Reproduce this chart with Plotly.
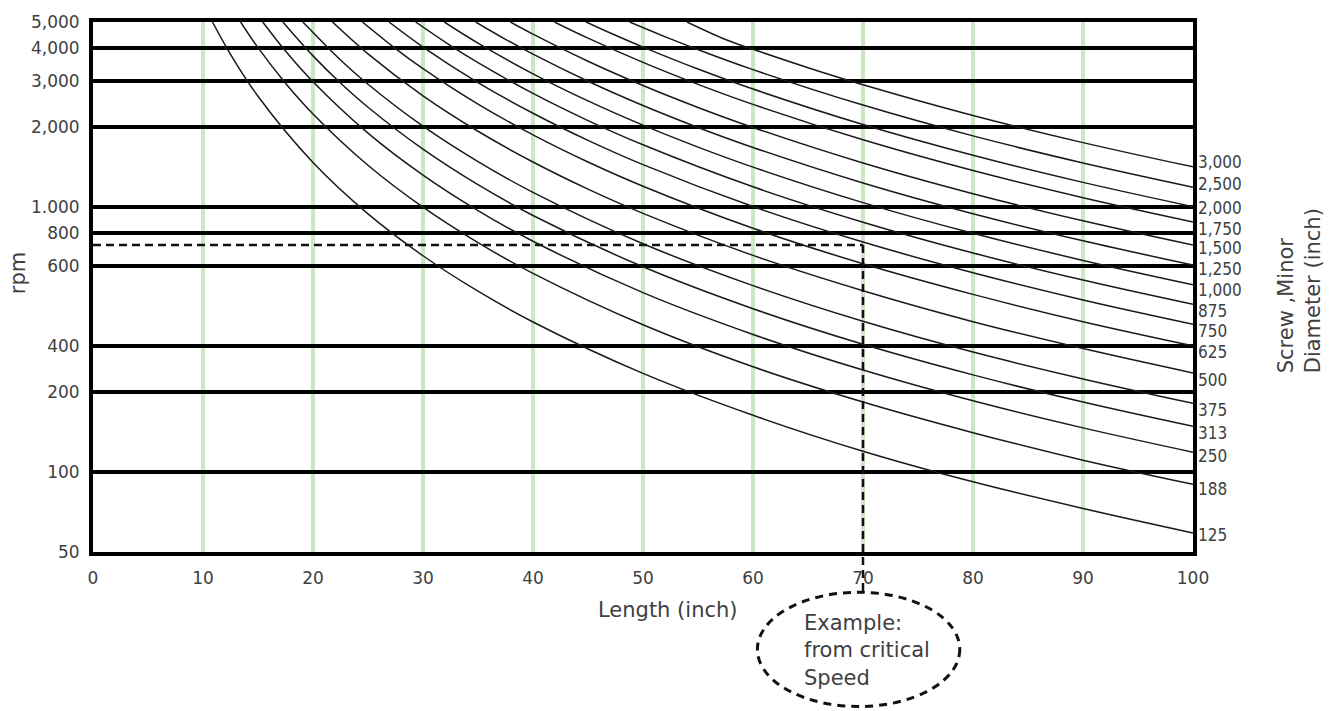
import math
import plotly.graph_objects as go

# ---------------- data ----------------
length_ticks = [0, 10, 20, 30, 40, 50, 60, 70, 80, 90, 100]
rpm_tickvals = [50, 100, 200, 300, 600, 800, 1000, 2000, 3000, 4000, 5000]
rpm_ticktext = ["50", "100", "200", "400", "600", "800", "1.000", "2,000", "3,000", "4,000", "5,000"]

diameter_labels = ["125", "188", "250", "313", "375", "500", "625", "750", "875",
                   "1,000", "1,250", "1,500", "1,750", "2,000", "2,500", "3,000"]

L_125 = [10.86, 12.5, 15, 20, 25, 30, 35, 40, 50, 60, 70, 80, 90, 100]
R_125 = [5000, 3776, 2622, 1475, 944, 656, 482, 369, 236, 164, 120, 92, 73, 59]

L_188 = [13.42, 15, 17.5, 20, 25, 30, 35, 40, 50, 60, 70, 80, 90, 100]
R_188 = [5000, 4000, 2939, 2250, 1440, 1000, 735, 563, 360, 250, 184, 141, 111, 90]

L_250 = [15.43, 17.5, 20, 25, 30, 35, 40, 50, 60, 70, 80, 90, 100]
R_250 = [5000, 3886, 2975, 1904, 1322, 971, 744, 476, 331, 243, 186, 147, 119]

L_313 = [17.26, 20, 22.5, 25, 30, 35, 40, 50, 60, 70, 80, 90, 100]
R_313 = [5000, 3725, 2943, 2384, 1656, 1216, 931, 596, 414, 304, 233, 184, 149]

L_375 = [19.08, 22.5, 25, 30, 35, 40, 50, 60, 70, 80, 90, 100]
R_375 = [5000, 3595, 2912, 2022, 1486, 1138, 728, 506, 371, 284, 225, 182]

L_500 = [21.77, 25, 30, 35, 40, 45, 50, 60, 70, 80, 90, 100]
R_500 = [5000, 3792, 2633, 1935, 1481, 1170, 948, 658, 484, 370, 293, 237]

L_625 = [24.49, 27.5, 30, 35, 40, 45, 50, 60, 70, 80, 90, 100]
R_625 = [5000, 3967, 3333, 2449, 1875, 1481, 1200, 833, 612, 469, 370, 300]

L_750 = [26.91, 30, 35, 40, 45, 50, 60, 70, 80, 90, 100]
R_750 = [5000, 4022, 2955, 2263, 1788, 1448, 1006, 739, 566, 447, 362]

L_875 = [29.33, 32.5, 35, 40, 45, 50, 60, 70, 80, 90, 100]
R_875 = [5000, 4071, 3510, 2688, 2123, 1720, 1194, 878, 672, 531, 430]

L_1000 = [31.94, 35, 40, 45, 50, 55, 60, 70, 80, 90, 100]
R_1000 = [5000, 4163, 3188, 2519, 2040, 1686, 1417, 1041, 797, 630, 510]

L_1250 = [34.79, 37.5, 40, 45, 50, 55, 60, 70, 80, 90, 100]
R_1250 = [5000, 4302, 3781, 2988, 2420, 2000, 1681, 1235, 945, 747, 605]

L_1500 = [37.95, 40, 45, 50, 55, 60, 70, 80, 90, 100]
R_1500 = [5000, 4500, 3556, 2880, 2380, 2000, 1469, 1125, 889, 720]

L_1750 = [41.95, 45, 50, 55, 60, 70, 80, 90, 100]
R_1750 = [5000, 4346, 3520, 2909, 2444, 1796, 1375, 1086, 880]

L_2000 = [44.83, 47.5, 50, 55, 60, 70, 80, 90, 100]
R_2000 = [5000, 4454, 4020, 3322, 2792, 2051, 1570, 1241, 1005]

L_2500 = [48.79, 52.5, 55, 60, 70, 80, 90, 100]
R_2500 = [5000, 4317, 3934, 3306, 2429, 1859, 1469, 1190]

L_3000 = [54.0, 57.5, 60, 65, 70, 80, 90, 100]
R_3000 = [5000, 4295, 3944, 3361, 2898, 2219, 1753, 1420]

example_length = 70
example_rpm = 720

curves_L = [L_125, L_188, L_250, L_313, L_375, L_500, L_625, L_750, L_875,
            L_1000, L_1250, L_1500, L_1750, L_2000, L_2500, L_3000]
curves_R = [R_125, R_188, R_250, R_313, R_375, R_500, R_625, R_750, R_875,
            R_1000, R_1250, R_1500, R_1750, R_2000, R_2500, R_3000]

# vertical nudges (px) of the diameter labels relative to their curve ends
label_yshift = [-2, -5, -4, -7, -7, -7, -6, -7, -7, -5, -4, -3, -7, -1, 3, 5]

# ---------------- figure ----------------
FONT = "'DejaVu Sans', Verdana, sans-serif"
FONT_COND = "'DejaVu Sans Condensed', 'Liberation Sans Narrow', 'DejaVu Sans', sans-serif"
TXT = "#404040"
Y_MIN, Y_MAX = 50, 5000


def ypaper(v):
    return (math.log10(v) - math.log10(Y_MIN)) / (math.log10(Y_MAX) - math.log10(Y_MIN))


fig = go.Figure()
for lx, ry, lab in zip(curves_L, curves_R, diameter_labels):
    fig.add_trace(go.Scatter(x=lx, y=ry, mode="lines", name=lab,
                             line=dict(color="#1a1a1a", width=1.5, shape="spline", smoothing=1.0),
                             hoverinfo="x+y+name", showlegend=False))

annotations = []
for ry, lab, dy in zip(curves_R, diameter_labels, label_yshift):
    annotations.append(dict(x=1.0, xref="paper", y=math.log10(ry[-1]), yref="y",
                            text=lab, showarrow=False, xanchor="left", yanchor="middle",
                            xshift=3, yshift=dy,
                            font=dict(family=FONT_COND, size=17, color=TXT)))

annotations += [
    dict(text="rpm", x=-0.0682, y=0.526, xref="paper", yref="paper", showarrow=False,
         xanchor="center", yanchor="middle", textangle=-90,
         font=dict(family=FONT, size=21, color=TXT)),
    dict(text="Length (inch)", x=0.5227, y=-0.1097, xref="paper", yref="paper", showarrow=False,
         xanchor="center", yanchor="middle",
         font=dict(family=FONT, size=21, color=TXT)),
    dict(text="Screw ,Minor<br>Diameter (inch)", x=1.0964, y=0.492, xref="paper", yref="paper",
         showarrow=False, textangle=-90, align="left", xanchor="center", yanchor="middle",
         font=dict(family=FONT, size=21, color=TXT)),
    dict(text="Example:<br>from critical<br>Speed", x=64.45, xref="x", y=-0.1856, yref="paper",
         showarrow=False, xanchor="left", yanchor="middle", align="left",
         font=dict(family=FONT, size=21, color=TXT)),
]

shapes = [
    dict(type="line", xref="x", yref="paper", x0=0, x1=example_length,
         y0=ypaper(example_rpm), y1=ypaper(example_rpm),
         line=dict(color="#111", width=2.5, dash="8px,5px")),
    dict(type="line", xref="x", yref="paper", x0=example_length, x1=example_length,
         y0=ypaper(example_rpm), y1=-0.0759,
         line=dict(color="#111", width=2.5, dash="8px,5px")),
    dict(type="circle", xref="x", yref="paper", x0=60.4, x1=78.8, y0=-0.2915, y1=-0.0759,
         line=dict(color="#111", width=3, dash="8px,6px")),
]

fig.update_layout(
    width=1332, height=711,
    margin=dict(l=93, r=139, t=19, b=159),
    paper_bgcolor="white", plot_bgcolor="white",
    annotations=annotations, shapes=shapes,
    showlegend=False,
)
fig.update_xaxes(range=[0, 100], tickvals=length_ticks, showgrid=True,
                 gridcolor="#cbe7c3", gridwidth=4, zeroline=False,
                 showline=True, linecolor="black", linewidth=4, mirror=True,
                 ticks="", ticklabelstandoff=8,
                 tickfont=dict(family=FONT, size=17, color=TXT))
fig.update_yaxes(type="log", range=[math.log10(Y_MIN), math.log10(Y_MAX)],
                 tickvals=rpm_tickvals, ticktext=rpm_ticktext, showgrid=True,
                 gridcolor="black", gridwidth=3.5, zeroline=False,
                 showline=True, linecolor="black", linewidth=4, mirror=True,
                 ticks="", ticklabelstandoff=6,
                 tickfont=dict(family=FONT, size=17, color=TXT))

fig.write_html("out.html", config={"displayModeBar": False},
               post_script="document.body.style.margin='0px';")
